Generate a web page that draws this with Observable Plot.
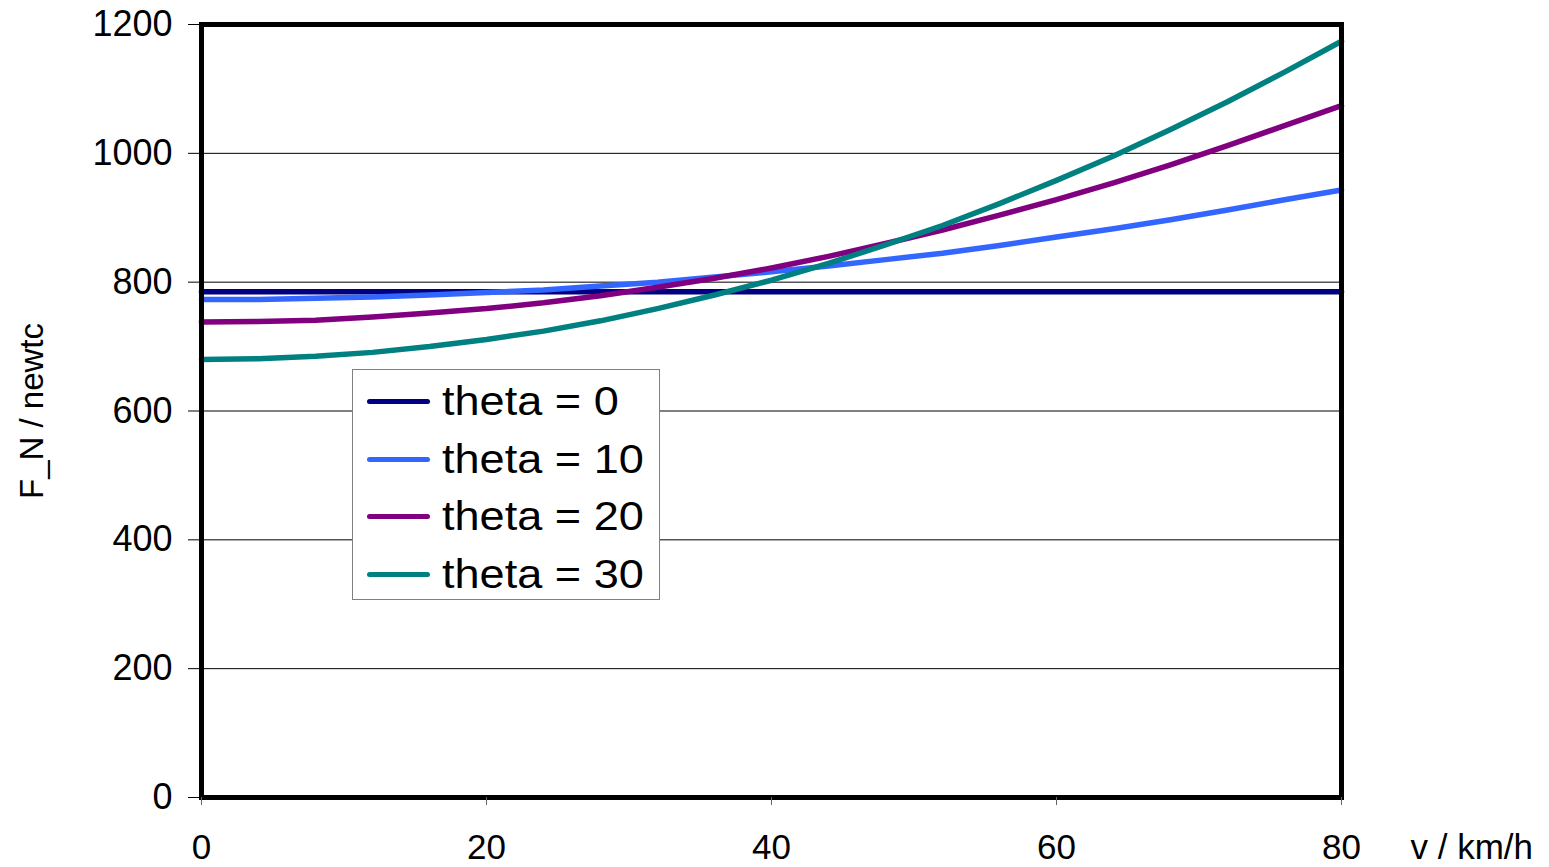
<!DOCTYPE html>
<html>
<head>
<meta charset="utf-8">
<script src="https://cdn.jsdelivr.net/npm/d3@7"></script>
<script src="https://cdn.jsdelivr.net/npm/@observablehq/plot@0.6"></script>
<style>
  html, body { margin: 0; padding: 0; background: #fff; }
  #wrap { position: relative; width: 1549px; height: 867px; font-family: "Liberation Sans", Arial, sans-serif; }
  #legend { position: absolute; left: 352px; top: 369px; width: 308px; height: 231px; border: 1px solid #808080; background: #fff; box-sizing: border-box; padding-top: 3px; }
  .row { height: 57.5px; display: flex; align-items: center; }
  .sw { width: 63px; height: 5px; border-radius: 3px; margin-left: 14px; margin-right: 12px; flex: none; }
  .lab { font-size: 41px; color: #000; white-space: nowrap; transform: scaleX(1.1); transform-origin: left center; }
</style>
</head>
<body>
<div id="wrap"></div>
<script>
const speeds  = [0,4,8,12,16,20,24,28,32,36,40,44,48,52,56,60,64,68,72,76,80];
const theta0  = [785,785,785,785,785,785,785,785,785,785,785,785,785,785,785,785,785,785,785,785,785];
const theta10 = [773,773,775,777,780,784,788,794,800,808,816,825,835,845,857,870,883,897,912,928,943];
const theta20 = [738,739,741,746,752,759,768,779,792,806,822,840,860,881,904,928,954,982,1012,1043,1074];
const theta30 = [680,681,685,691,700,711,724,740,759,780,803,829,858,888,922,958,996,1037,1080,1126,1174];
const seriesNames  = ["theta = 0","theta = 10","theta = 20","theta = 30"];
const seriesColors = ["#000080","#3366FF","#800080","#008080"];
const xTicks = [0,20,40,60,80];
const yTicks = [0,200,400,600,800,1000,1200];
const xLabel = "v / km/h";
const yLabel = "F_N / newtc";

const allSeries = [theta0, theta10, theta20, theta30];
const data = [];
allSeries.forEach((vals, i) => vals.forEach((v, j) => data.push({v: speeds[j], F: v, s: seriesNames[i]})));

const chart = Plot.plot({
  width: 1549,
  height: 867,
  marginLeft: 201,
  marginRight: 208,
  marginTop: 24,
  marginBottom: 70,
  style: {fontFamily: "'Liberation Sans', Arial, sans-serif", background: "#fff", color: "#000"},
  x: {domain: [0, 80]},
  y: {domain: [0, 1200]},
  color: {domain: seriesNames, range: seriesColors},
  marks: [
    Plot.gridY(yTicks, {stroke: "#000", strokeOpacity: 1, strokeWidth: 1}),
    Plot.line(data, {x: "v", y: "F", z: "s", stroke: "s", strokeWidth: 5.5, strokeLinejoin: "round", strokeLinecap: "round"}),
    Plot.frame({stroke: "#000", strokeWidth: 5}),
    Plot.axisY(yTicks, {tickSize: 13, tickPadding: 16, fontSize: 36, label: null, stroke: "#000", tickFormat: d => String(d)}),
    Plot.axisX(xTicks, {tickSize: 8, tickPadding: 29, fontSize: 35, label: null, stroke: "#666", tickFormat: d => String(d)}),
    Plot.text([xLabel], {frameAnchor: "bottom-right", dx: 69, dy: 37, textAnchor: "start", lineAnchor: "top", fontSize: 35}),
    Plot.text([yLabel], {frameAnchor: "left", dx: -169, rotate: -90, textAnchor: "middle", fontSize: 33, letterSpacing: 1.5})
  ]
});

const wrap = document.getElementById("wrap");
wrap.appendChild(chart);

const legend = document.createElement("div");
legend.id = "legend";
seriesNames.forEach((name, i) => {
  const row = document.createElement("div");
  row.className = "row";
  const sw = document.createElement("div");
  sw.className = "sw";
  sw.style.background = seriesColors[i];
  const lab = document.createElement("div");
  lab.className = "lab";
  lab.textContent = name;
  row.appendChild(sw);
  row.appendChild(lab);
  legend.appendChild(row);
});
wrap.appendChild(legend);
</script>
</body>
</html>
